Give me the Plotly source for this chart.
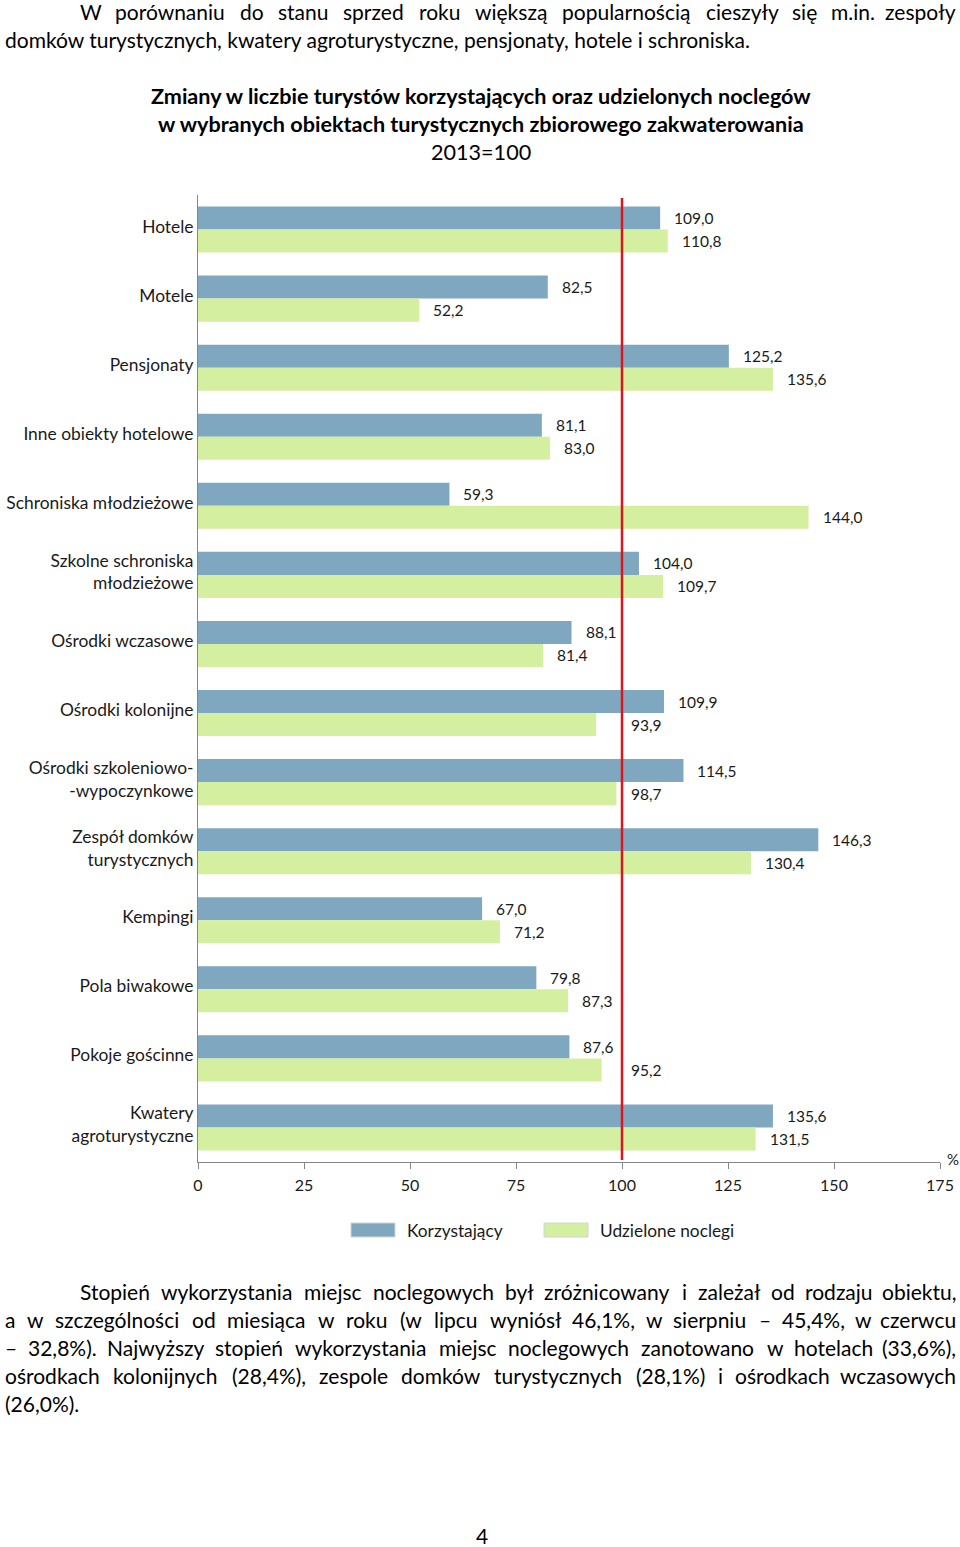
import plotly.graph_objects as go

# ---------------- data ----------------
categories = [
    "Hotele", "Motele", "Pensjonaty", "Inne obiekty hotelowe",
    "Schroniska młodzieżowe", "Szkolne schroniska<br>młodzieżowe",
    "Ośrodki wczasowe", "Ośrodki kolonijne",
    "Ośrodki szkoleniowo-<br>-wypoczynkowe", "Zespół domków<br>turystycznych",
    "Kempingi", "Pola biwakowe", "Pokoje gościnne", "Kwatery<br>agroturystyczne",
]
korzystajacy = [109.0, 82.5, 125.2, 81.1, 59.3, 104.0, 88.1, 109.9, 114.5, 146.3, 67.0, 79.8, 87.6, 135.6]
noclegi = [110.8, 52.2, 135.6, 83.0, 144.0, 109.7, 81.4, 93.9, 98.7, 130.4, 71.2, 87.3, 95.2, 131.5]
x_ticks = [0, 25, 50, 75, 100, 125, 150, 175]
base_level = 100

series_names = ["Korzystający", "Udzielone noclegi"]
title_lines = [
    "<b>Zmiany w liczbie turystów korzystających oraz udzielonych noclegów</b>",
    "<b>w wybranych obiektach turystycznych zbiorowego zakwaterowania</b>",
    "2013=100",
]

# page text: (line, justified?, first-word indent px, line centre y px)
page_lines = [
    ("W porównaniu do stanu sprzed roku większą popularnością cieszyły się m.in. zespoły", True, 78, 12),
    ("domków turystycznych, kwatery agroturystyczne, pensjonaty, hotele i schroniska.", False, 3, 39),
    ("Stopień wykorzystania miejsc noclegowych był zróżnicowany i zależał od rodzaju obiektu,", True, 78, 1291),
    ("a w szczególności od miesiąca w roku (w lipcu wyniósł 46,1%, w sierpniu – 45,4%, w czerwcu", True, 3, 1319),
    ("– 32,8%). Najwyższy stopień wykorzystania miejsc noclegowych zanotowano w hotelach (33,6%),", True, 3, 1347),
    ("ośrodkach kolonijnych (28,4%), zespole domków turystycznych (28,1%) i ośrodkach wczasowych", True, 3, 1375),
    ("(26,0%).", False, 3, 1403),
]
page_number = "4"

# ---------------- styles ----------------
W, H = 960, 1547
FONT = "Lato"
BLUE = "#7FA7BF"
GREEN = "#D4EFA0"
RED = "#E0141E"
AXIS = "#868686"
TXT = "#1a1a1a"
BODY_SIZE = 21
TEXT_RIGHT = 958

PLOT_L, PLOT_R, PLOT_T, PLOT_B = 198, 940, 195, 1162


def px(x):
    return x / W


def py(y):
    return 1 - y / H


# approximate glyph advance widths (em) used to justify the page text
GLYPH = {
    "a": .51, "b": .57, "c": .47, "d": .57, "e": .53, "f": .33, "g": .51, "h": .57, "i": .24,
    "j": .24, "k": .51, "l": .24, "m": .86, "n": .57, "o": .57, "p": .57, "q": .57, "r": .37,
    "s": .43, "t": .35, "u": .57, "v": .51, "w": .78, "x": .49, "y": .51, "z": .46,
    "ą": .51, "ę": .53, "ć": .47, "ł": .27, "ń": .57, "ó": .57, "ś": .43, "ż": .46, "ź": .46,
    "W": .98, "S": .52, "N": .74, ",": .22, ".": .22, "(": .30, ")": .30, "%": .76,
    "–": .55, "-": .34, " ": .19,
}
for d in "0123456789":
    GLYPH[d] = .58
CALIB_TEXT = page_lines[1][0]
CALIB_PX = 745.0  # rendered width of the calibration line at BODY_SIZE


def raw_width(s):
    return sum(GLYPH.get(c, .5) for c in s) * BODY_SIZE


K = CALIB_PX / raw_width(CALIB_TEXT)


def word_width(s):
    return raw_width(s) * K


fig = go.Figure()
fig.add_trace(go.Bar(y=categories, x=korzystajacy, orientation="h", name=series_names[0],
                     marker=dict(color=BLUE, line=dict(width=0)), hoverinfo="x+y"))
fig.add_trace(go.Bar(y=categories, x=noclegi, orientation="h", name=series_names[1],
                     marker=dict(color=GREEN, line=dict(width=0)), hoverinfo="x+y"))

annotations = []

# data labels
unit_px = (PLOT_R - PLOT_L) / (x_ticks[-1] - x_ticks[0])
for vals, shift in ((korzystajacy, 11.5), (noclegi, -11.5)):
    for cat, v in zip(categories, vals):
        label = f"{v:.1f}".replace(".", ",")
        if v < base_level and v + (12 + 34) / unit_px > base_level:
            xv, xs = base_level, 7
        else:
            xv, xs = v, 12
        annotations.append(dict(x=xv, y=cat, xref="x", yref="y", text=label, showarrow=False,
                                xanchor="left", yanchor="middle", xshift=xs, yshift=shift,
                                font=dict(family=FONT, size=15.5, color=TXT)))

# title
for i, t in enumerate(title_lines):
    annotations.append(dict(x=px(481), y=py(96 + 28 * i), xref="paper", yref="paper", text=t,
                            showarrow=False, xanchor="center", yanchor="middle",
                            font=dict(family=FONT, size=21.6, color="#000")))

# % unit
annotations.append(dict(x=px(945), y=py(1159), xref="paper", yref="paper", text="%",
                        showarrow=False, xanchor="left", yanchor="middle",
                        font=dict(family=FONT, size=15, color=TXT)))

# legend (custom)
shapes = []
leg_y = 1230
for (sx, tx), name, col in zip(((351, 405), (544, 598)), series_names, (BLUE, GREEN)):
    shapes.append(dict(type="rect", xref="paper", yref="paper", x0=px(sx), x1=px(sx + 44),
                       y0=py(leg_y + 7), y1=py(leg_y - 7), fillcolor=col,
                       line=dict(color="#cfd8d0", width=1)))
    annotations.append(dict(x=px(tx), y=py(leg_y), xref="paper", yref="paper", text=name,
                            showarrow=False, xanchor="left", yanchor="middle",
                            font=dict(family=FONT, size=17.3, color=TXT)))

# reference line at 100
shapes.append(dict(type="line", xref="x", yref="paper", x0=base_level, x1=base_level,
                   y0=py(1160), y1=py(198), line=dict(color=RED, width=2.5)))

# page text (justified word by word)
BODY = dict(family=FONT, size=BODY_SIZE, color="#000")
for text, justify, x_start, yc in page_lines:
    if not justify:
        annotations.append(dict(x=px(x_start), y=py(yc), xref="paper", yref="paper", text=text,
                                showarrow=False, xanchor="left", yanchor="middle", font=BODY))
        continue
    words = text.split(" ")
    widths = [word_width(w_) for w_ in words]
    gap = (TEXT_RIGHT - x_start - sum(widths)) / (len(words) - 1)
    gap = max(gap, 4.0)
    xcur = x_start
    for k, (w_, ww) in enumerate(zip(words, widths)):
        if k == len(words) - 1:
            annotations.append(dict(x=px(TEXT_RIGHT), y=py(yc), xref="paper", yref="paper", text=w_,
                                    showarrow=False, xanchor="right", yanchor="middle", font=BODY))
        else:
            annotations.append(dict(x=px(xcur), y=py(yc), xref="paper", yref="paper", text=w_,
                                    showarrow=False, xanchor="left", yanchor="middle", font=BODY))
        xcur += ww + gap

annotations.append(dict(x=px(482), y=py(1535), xref="paper", yref="paper", text=page_number,
                        showarrow=False, xanchor="center", yanchor="middle", font=BODY))

fig.update_layout(
    width=W, height=H, autosize=False,
    margin=dict(l=0, r=0, t=0, b=0, pad=0),
    paper_bgcolor="white", plot_bgcolor="white",
    showlegend=False,
    barmode="group", bargap=0.333, bargroupgap=0,
    font=dict(family=FONT, color=TXT),
    xaxis=dict(domain=[px(PLOT_L), px(PLOT_R)], range=[x_ticks[0], x_ticks[-1]],
               tickvals=x_ticks, ticktext=[str(t) for t in x_ticks],
               showline=True, linecolor=AXIS, linewidth=1, ticks="outside", ticklen=6,
               tickcolor=AXIS, showgrid=False, zeroline=False, automargin=False,
               tickfont=dict(family=FONT, size=16, color=TXT), ticklabelstandoff=3),
    yaxis=dict(domain=[py(PLOT_B), py(PLOT_T)], categoryorder="array", categoryarray=categories,
               autorange="reversed", showline=True, linecolor=AXIS, linewidth=1,
               ticks="", showgrid=False, zeroline=False, automargin=False,
               ticklabelshift=3,
               tickfont=dict(family=FONT, size=17.4, color=TXT)),
    annotations=annotations,
    shapes=shapes,
)

post = (
    "document.documentElement.style.overflow='hidden';"
    "document.body.style.margin='0';document.body.style.overflow='hidden';"
)
fig.write_html("out.html", config={"displayModeBar": False}, post_script=post)
